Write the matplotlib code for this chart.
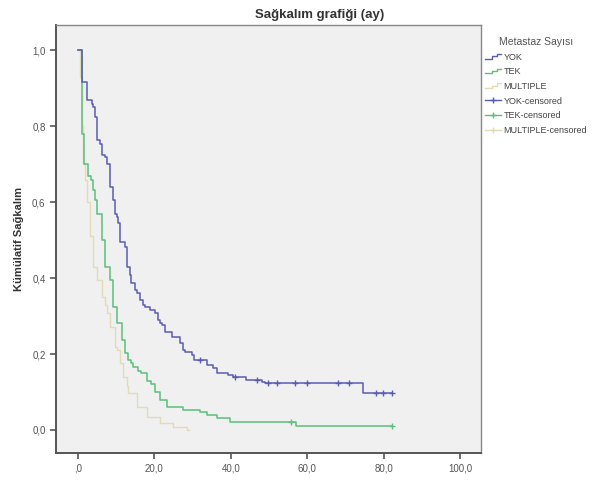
import numpy as np
import matplotlib.pyplot as plt
from matplotlib.lines import Line2D
from matplotlib.legend_handler import HandlerBase

plt.rcParams['font.family'] = ['Liberation Sans', 'DejaVu Sans']

# Kaplan-Meier basamakları (ay, kümülatif sağkalım)
yok_t = [0, 1.0, 2.3, 3.6, 4.0, 4.5, 4.9, 5.8, 6.2, 7.1, 7.5, 8.4, 9.2, 9.7, 10.1,
         10.6, 11.0, 12.3, 12.9, 13.6, 14.0, 14.9, 15.4, 16.2, 17.1, 17.5, 18.8,
         20.2, 21.0, 21.5, 21.9, 22.8, 24.5, 26.7, 27.6, 28.0, 29.8, 30.5, 33.7,
         35.4, 36.3, 39.3, 40.5, 44.0, 48.1, 49.0, 74.7, 82.1]
yok_s = [1.0, 0.917, 0.868, 0.86, 0.851, 0.824, 0.763, 0.754, 0.724, 0.719, 0.70,
         0.64, 0.605, 0.57, 0.561, 0.544, 0.495, 0.482, 0.43, 0.408, 0.386, 0.368,
         0.36, 0.342, 0.329, 0.324, 0.316, 0.307, 0.289, 0.281, 0.276, 0.259, 0.246,
         0.228, 0.21, 0.206, 0.197, 0.184, 0.171, 0.162, 0.149, 0.145, 0.14, 0.132,
         0.127, 0.123, 0.097, 0.097]
yok_cens_t = [31.9, 41.1, 46.8, 49.8, 52.0, 56.8, 59.9, 68.1, 71.0, 78.0, 79.9, 82.1]

tek_t = [0, 1.0, 1.6, 2.7, 3.3, 4.0, 4.5, 4.9, 6.2, 7.1, 8.4, 9.2, 10.1, 11.4, 12.3,
         13.2, 14.0, 14.5, 15.8, 16.5, 18.0, 19.0, 20.2, 21.5, 23.2, 27.6, 31.9,
         33.7, 36.3, 39.8, 57.2, 82.1]
tek_s = [1.0, 0.78, 0.70, 0.67, 0.658, 0.632, 0.605, 0.57, 0.50, 0.43, 0.395, 0.324,
         0.281, 0.237, 0.202, 0.184, 0.175, 0.167, 0.155, 0.149, 0.13, 0.12, 0.101,
         0.079, 0.061, 0.053, 0.048, 0.04, 0.031, 0.022, 0.011, 0.011]
tek_cens_t = [55.9, 82.1]

mult_t = [0, 0.6, 1.0, 1.4, 1.8, 2.3, 3.1, 4.0, 4.9, 6.2, 7.1, 7.5, 8.4, 9.7, 10.1,
          11.0, 11.9, 12.7, 13.2, 15.4, 18.0, 21.5, 24.9, 28.5, 29.0]
mult_s = [1.0, 0.93, 0.80, 0.70, 0.658, 0.60, 0.51, 0.43, 0.395, 0.351, 0.33, 0.307,
          0.27, 0.219, 0.21, 0.175, 0.14, 0.115, 0.096, 0.061, 0.035, 0.018, 0.009,
          0.0, 0.0]

labels = ['YOK', 'TEK', 'MULTIPLE', 'YOK-censored', 'TEK-censored', 'MULTIPLE-censored']


def surv_at(ts, ss, x):
    i = np.searchsorted(ts, x, side='right') - 1
    return ss[i]


class StepHandler(HandlerBase):
    # legend'da küçük basamak çizgisi
    def create_artists(self, legend, orig_handle, xdescent, ydescent, width, height,
                       fontsize, trans):
        x0, y0 = -xdescent, -ydescent
        xs = [x0, x0 + 0.45 * width, x0 + 0.45 * width, x0 + width * 0.75,
              x0 + width * 0.75, x0 + width]
        ys = [y0 + 0.15 * height, y0 + 0.15 * height, y0 + 0.55 * height,
              y0 + 0.55 * height, y0 + 0.9 * height, y0 + 0.9 * height]
        ln = Line2D(xs, ys, color=orig_handle.get_color(), lw=1.0, transform=trans)
        return [ln]


c_yok = '#5a5cb2'
c_tek = '#5cbf7c'
c_mult = '#e2dcb6'

fig = plt.figure(figsize=(6.08, 4.8), dpi=100)
ax = fig.add_axes([0.0921, 0.0569, 0.6989, 0.8911])
ax.set_facecolor('#f0f0f0')

ax.plot(mult_t, mult_s, drawstyle='steps-post', color=c_mult, lw=1.0)
ax.plot(tek_t, tek_s, drawstyle='steps-post', color=c_tek, lw=1.1)
ax.plot(yok_t, yok_s, drawstyle='steps-post', color=c_yok, lw=1.1)

ax.plot(yok_cens_t, [surv_at(yok_t, yok_s, x) for x in yok_cens_t], '+',
        color=c_yok, ms=5, mew=1.0)
ax.plot(tek_cens_t, [surv_at(tek_t, tek_s, x) for x in tek_cens_t], '+',
        color=c_tek, ms=5, mew=1.0)

ax.set_xlim(-5.76, 105.5)
ax.set_ylim(-0.06, 1.067)
ax.set_xticks([0, 20, 40, 60, 80, 100])
ax.set_xticklabels([',0', '20,0', '40,0', '60,0', '80,0', '100,0'])
ax.set_yticks([0, 0.2, 0.4, 0.6, 0.8, 1.0])
ax.set_yticklabels(['0,0', '0,2', '0,4', '0,6', '0,8', '1,0'])
ax.tick_params(labelsize=7, colors='#555555', length=4, width=1.2, labelcolor='#555555')

for side in ['left', 'bottom']:
    ax.spines[side].set_color('#555555')
    ax.spines[side].set_linewidth(1.4)
for side in ['top', 'right']:
    ax.spines[side].set_color('#888888')
    ax.spines[side].set_linewidth(1.0)

ax.set_ylabel('Kümülatif Sağkalım', fontsize=8, fontweight='bold', color='#333333', labelpad=6)
fig.text(0.525, 0.968, 'Sağkalım grafiği (ay)', fontsize=9.5, fontweight='bold',
         color='#333333', ha='center', va='center')

step_yok = Line2D([], [], color=c_yok)
step_tek = Line2D([], [], color=c_tek)
step_mult = Line2D([], [], color=c_mult)
handles = [
    step_yok, step_tek, step_mult,
    Line2D([], [], color=c_yok, lw=1.0, marker='+', ms=5),
    Line2D([], [], color=c_tek, lw=1.0, marker='+', ms=5),
    Line2D([], [], color=c_mult, lw=1.0, marker='+', ms=5),
]
leg = ax.legend(handles, labels, loc='upper left', bbox_to_anchor=(0.792, 0.93),
                bbox_transform=fig.transFigure, frameon=False, fontsize=6.5,
                handlelength=1.8, handletextpad=0.25, labelspacing=0.62,
                title='Metastaz Sayısı', title_fontsize=7.5, borderaxespad=0,
                handler_map={step_yok: StepHandler(), step_tek: StepHandler(),
                             step_mult: StepHandler()})
leg.get_title().set_color('#555555')
for t in leg.get_texts():
    t.set_color('#444444')

fig.savefig('out.png', dpi=100)
